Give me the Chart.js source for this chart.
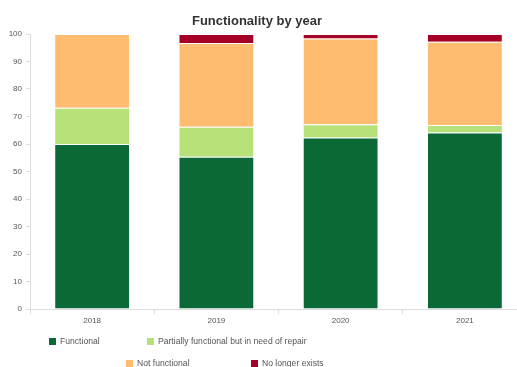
<!DOCTYPE html>
<html lang="en">
  <head>
    <meta charset="UTF-8" />
    <title>Functionality by year</title>
    <style>
      body {
        margin: 0;
        padding: 0;
        background: #fff;
        overflow: hidden;
        font-family: "Liberation Sans", Arial, sans-serif;
      }
      .wrap {
        position: relative;
        width: 530px;
        height: 367px;
      }
      #chart {
        display: block;
      }
      .title {
        position: absolute;
        left: 0;
        width: 514px;
        top: 13px;
        text-align: center;
        font-size: 13px;
        font-weight: bold;
        color: #333;
      }
      .legend-item {
        position: absolute;
        font-size: 8.6px;
        color: #555;
        white-space: nowrap;
        display: flex;
        align-items: center;
        line-height: 10px;
      }
      .legend-item span.box {
        display: inline-block;
        width: 7px;
        height: 7px;
        margin-right: 4px;
      }
    </style>
    <script src="https://cdn.jsdelivr.net/npm/chart.js"></script>
  </head>
  <body>
    <div class="wrap">
      <canvas id="chart" width="530" height="367"></canvas>
      <div class="title">Functionality by year</div>
      <div id="legend"></div>
    </div>
    <script>
      const years = ["2018", "2019", "2020", "2021"];
      const functional = [60, 55.4, 62.4, 64.2];
      const partial = [13.2, 10.9, 4.8, 2.7];
      const notFunctional = [26.8, 30.4, 31.2, 30.3];
      const noLonger = [0, 3.3, 1.6, 2.8];

      const seriesNames = [
        "Functional",
        "Partially functional but in need of repair",
        "Not functional",
        "No longer exists",
      ];
      const colors = ["#0b6938", "#b6e078", "#fdbc70", "#a50026"];
      const yTicks = [0, 10, 20, 30, 40, 50, 60, 70, 80, 90, 100];

      const seriesData = [functional, partial, notFunctional, noLonger];
      const datasets = seriesData.map((d, i) => ({
        label: seriesNames[i],
        data: d,
        backgroundColor: colors[i],
        borderColor: "rgba(255,255,255,0.2)",
        borderWidth: 1,
        barPercentage: 0.61,
        categoryPercentage: 1,
      }));

      const ctx = document.getElementById("chart").getContext("2d");
      new Chart(ctx, {
        type: "bar",
        data: { labels: years, datasets: datasets },
        options: {
          responsive: false,
          animation: false,
          layout: { padding: { left: 0, right: 3, top: 34, bottom: 36 } },
          plugins: {
            legend: { display: false },
            tooltip: { enabled: false },
            title: { display: false },
          },
          scales: {
            x: {
              stacked: true,
              afterFit: (s) => {
                s.height = 22;
              },
              border: { color: "#ddd" },
              grid: {
                drawOnChartArea: false,
                drawTicks: true,
                tickLength: 5,
                color: "#ddd",
              },
              ticks: {
                color: "#555",
                font: { size: 8, family: "Liberation Sans" },
                padding: 2,
              },
            },
            y: {
              stacked: true,
              min: 0,
              max: 100,
              afterFit: (s) => {
                s.width = 30;
              },
              afterBuildTicks: (s) => {
                s.ticks = yTicks.map((v) => ({ value: v }));
              },
              border: { color: "#ddd" },
              grid: {
                drawOnChartArea: false,
                drawTicks: true,
                tickLength: 4,
                color: "#ddd",
              },
              ticks: {
                color: "#555",
                font: { size: 8, family: "Liberation Sans" },
                padding: 4,
              },
            },
          },
        },
      });

      // legend laid out in two rows like the reference
      const legendPos = [
        [49, 336],
        [147, 336],
        [126, 358],
        [251, 358],
      ];
      const legend = document.getElementById("legend");
      seriesNames.forEach((name, i) => {
        const item = document.createElement("div");
        item.className = "legend-item";
        item.style.left = legendPos[i][0] + "px";
        item.style.top = legendPos[i][1] + "px";
        item.innerHTML =
          '<span class="box" style="background:' + colors[i] + '"></span>' + name;
        legend.appendChild(item);
      });
    </script>
  </body>
</html>
